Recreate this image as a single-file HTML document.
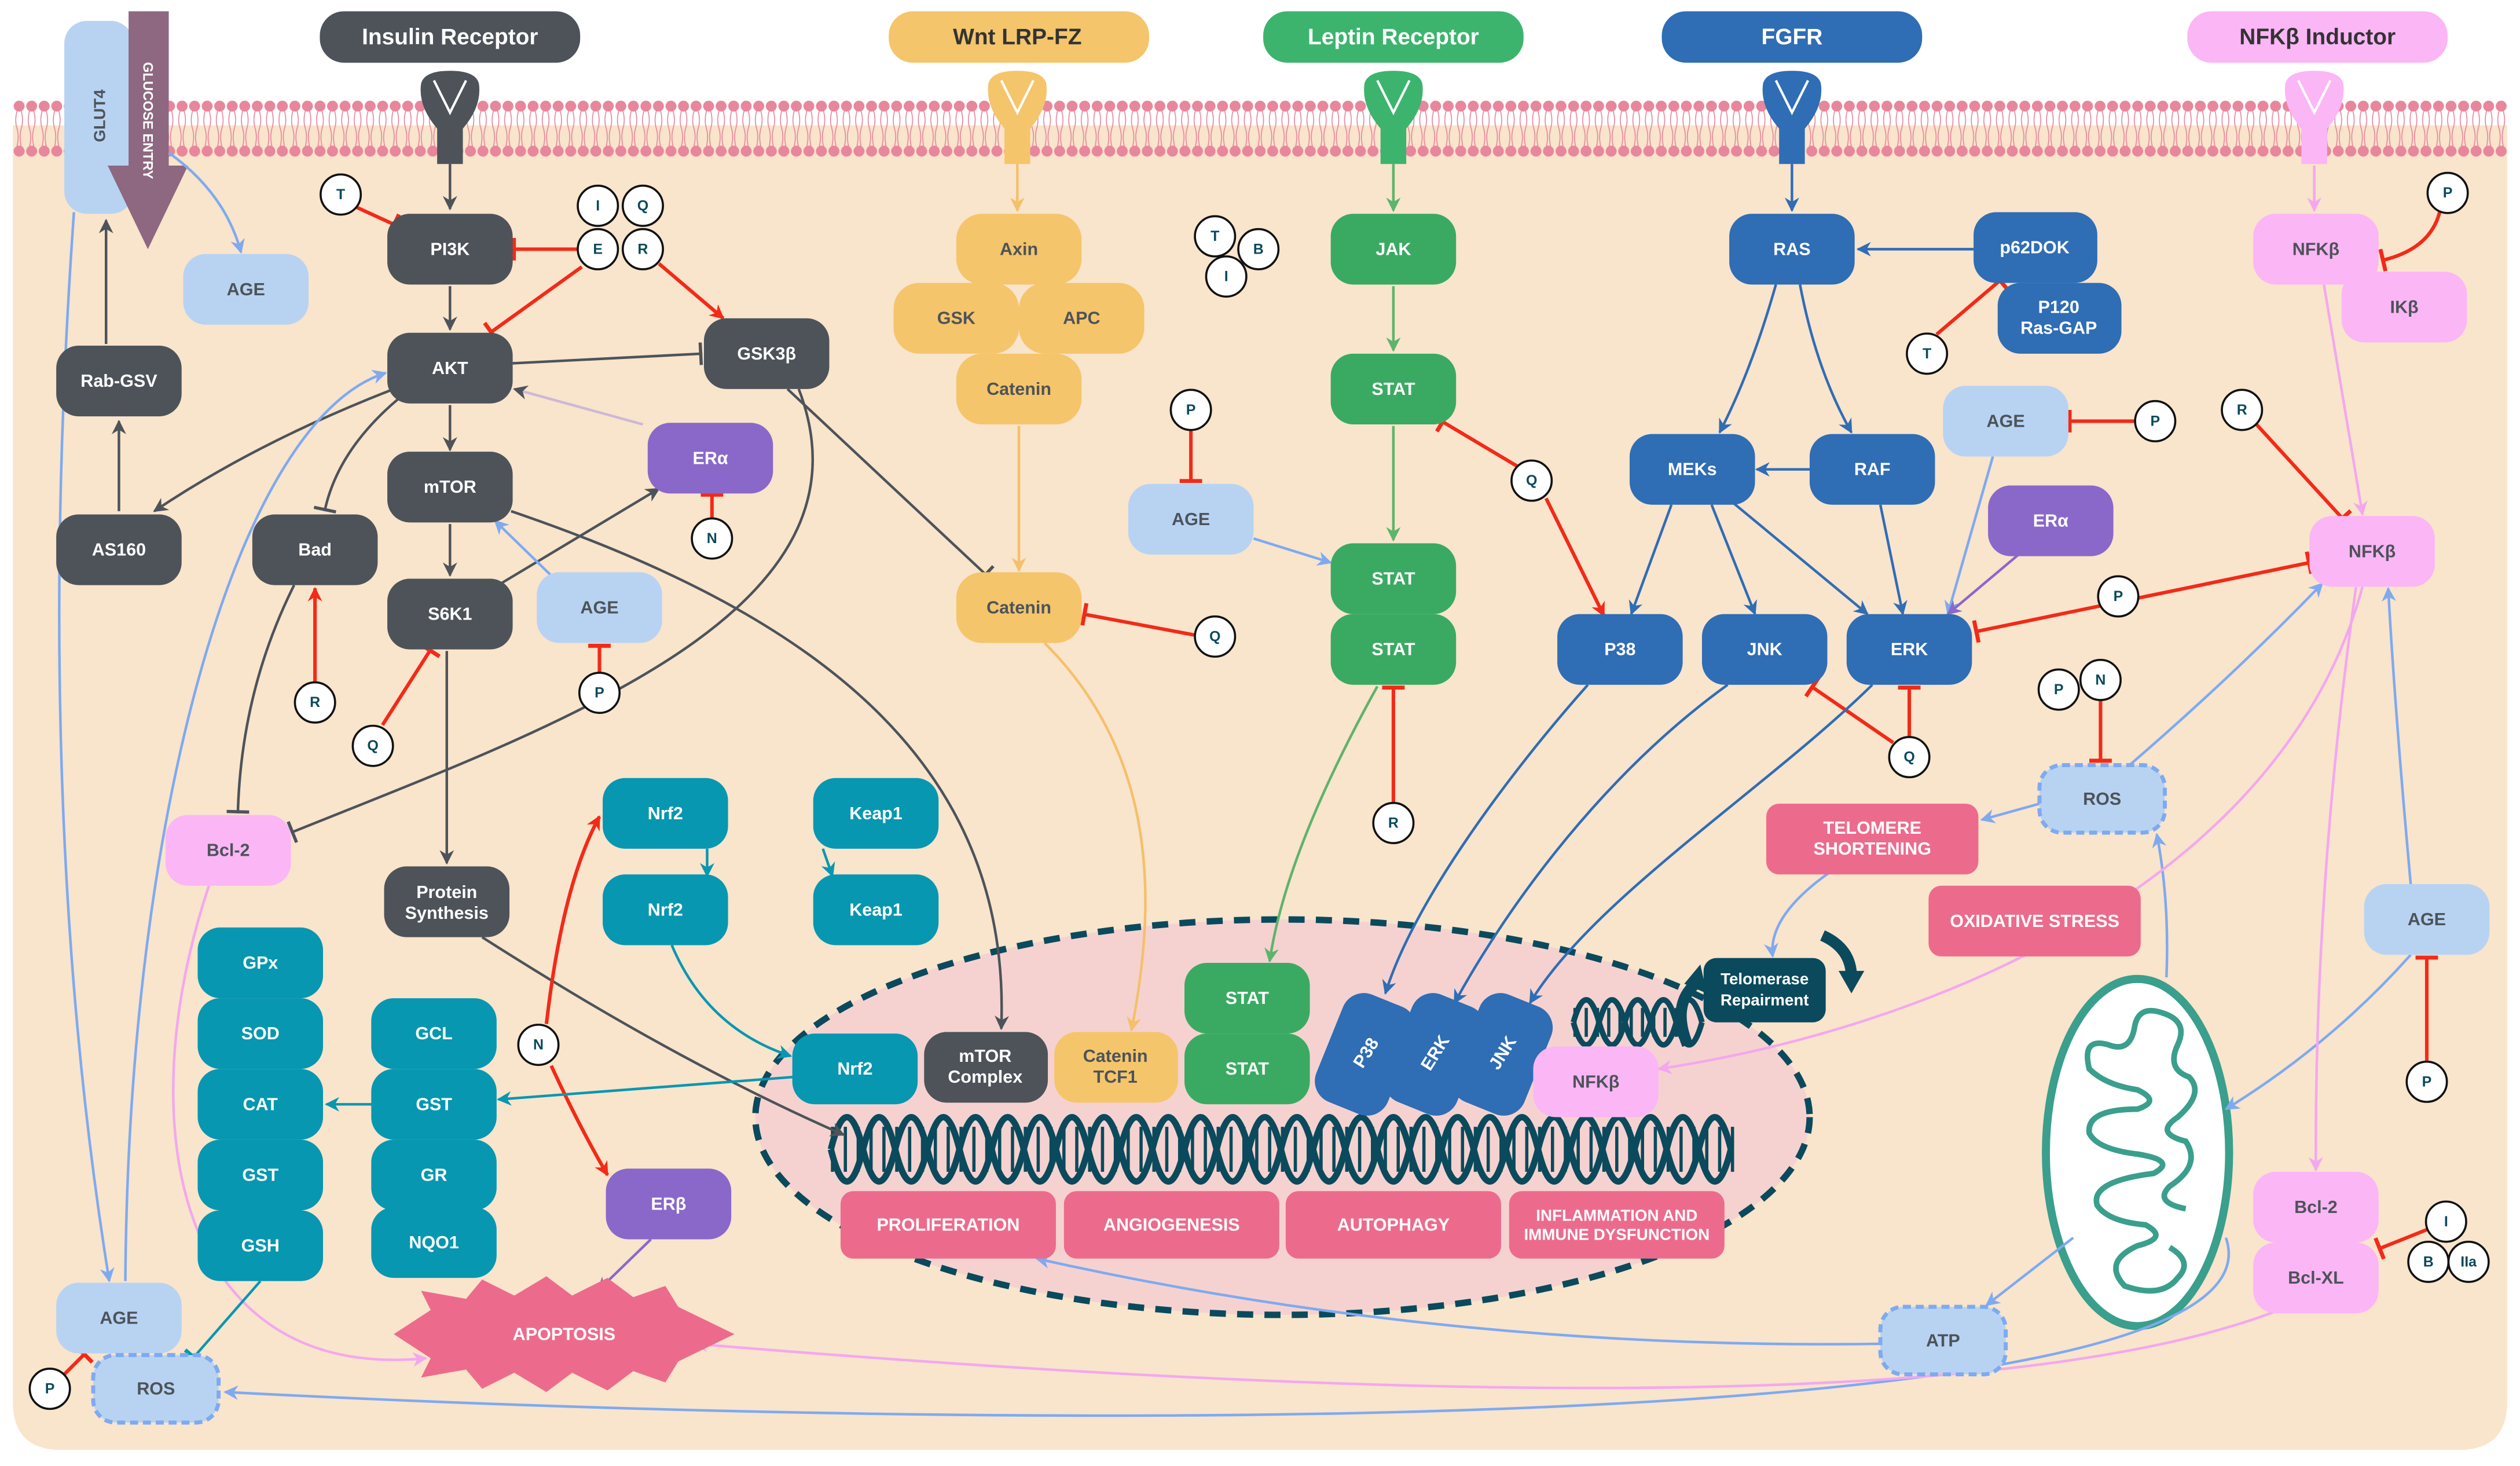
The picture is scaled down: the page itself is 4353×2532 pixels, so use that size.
<!DOCTYPE html>
<html><head><meta charset="utf-8"><style>
html,body{margin:0;padding:0;background:#fff;}
svg{display:block;}
text{font-family:"Liberation Sans",sans-serif;font-weight:bold;text-anchor:middle;dominant-baseline:central;}
.n text,.w{fill:#fff;font-size:11px;}
.c circle{fill:#fff;stroke:#111;stroke-width:1.3;}
.c text{fill:#0a4a5c;font-size:9px;}
.e path{fill:none;stroke-width:1.6;}
.e .r{stroke-width:2.2;}
.g{stroke:#4d5359;}.r{stroke:#f22a18;}.b{stroke:#7eaaf0;}.p{stroke:#f3a8ee;}.y{stroke:#f4c06a;}.gr{stroke:#5db46c;}.db{stroke:#2f6db5;}.t{stroke:#0797b1;}
</style></head><body>
<svg width="4353" height="2532" viewBox="0 0 1568 912" xmlns="http://www.w3.org/2000/svg">
<defs>
<pattern id="mem" width="7.8" height="38" patternUnits="userSpaceOnUse" x="8" y="61">
<circle cx="3.9" cy="5" r="3.4" fill="#e8869c"/><circle cx="3.9" cy="33" r="3.4" fill="#e8869c"/>
<path d="M2.6,8 Q1,14 2.6,19 Q4,24 2.6,30 M5.2,8 Q6.8,14 5.2,19 Q3.8,24 5.2,30" stroke="#e8869c" stroke-width="0.6" fill="none"/>
</pattern>
<marker id="ag" viewBox="0 0 10 10" refX="9" refY="5" markerWidth="9" markerHeight="9" markerUnits="userSpaceOnUse" orient="auto"><path d="M0,0L10,5L0,10L3,5z" fill="#4d5359" stroke="none"/></marker>
<marker id="ar" viewBox="0 0 10 10" refX="9" refY="5" markerWidth="9" markerHeight="9" markerUnits="userSpaceOnUse" orient="auto"><path d="M0,0L10,5L0,10L3,5z" fill="#f22a18" stroke="none"/></marker>
<marker id="ab" viewBox="0 0 10 10" refX="9" refY="5" markerWidth="9" markerHeight="9" markerUnits="userSpaceOnUse" orient="auto"><path d="M0,0L10,5L0,10L3,5z" fill="#7eaaf0" stroke="none"/></marker>
<marker id="ap" viewBox="0 0 10 10" refX="9" refY="5" markerWidth="9" markerHeight="9" markerUnits="userSpaceOnUse" orient="auto"><path d="M0,0L10,5L0,10L3,5z" fill="#f3a8ee" stroke="none"/></marker>
<marker id="ay" viewBox="0 0 10 10" refX="9" refY="5" markerWidth="9" markerHeight="9" markerUnits="userSpaceOnUse" orient="auto"><path d="M0,0L10,5L0,10L3,5z" fill="#f4c06a" stroke="none"/></marker>
<marker id="agr" viewBox="0 0 10 10" refX="9" refY="5" markerWidth="9" markerHeight="9" markerUnits="userSpaceOnUse" orient="auto"><path d="M0,0L10,5L0,10L3,5z" fill="#5db46c" stroke="none"/></marker>
<marker id="adb" viewBox="0 0 10 10" refX="9" refY="5" markerWidth="9" markerHeight="9" markerUnits="userSpaceOnUse" orient="auto"><path d="M0,0L10,5L0,10L3,5z" fill="#2f6db5" stroke="none"/></marker>
<marker id="at" viewBox="0 0 10 10" refX="9" refY="5" markerWidth="9" markerHeight="9" markerUnits="userSpaceOnUse" orient="auto"><path d="M0,0L10,5L0,10L3,5z" fill="#0797b1" stroke="none"/></marker>
<marker id="apu" viewBox="0 0 10 10" refX="9" refY="5" markerWidth="9" markerHeight="9" markerUnits="userSpaceOnUse" orient="auto"><path d="M0,0L10,5L0,10L3,5z" fill="#8a68c9" stroke="none"/></marker>
<marker id="tr" viewBox="0 0 4 14" refX="3" refY="7" markerWidth="4" markerHeight="14" markerUnits="userSpaceOnUse" orient="auto"><rect x="1" y="0" width="2.5" height="14" fill="#f22a18"/></marker>
<marker id="tg" viewBox="0 0 4 14" refX="3" refY="7" markerWidth="4" markerHeight="14" markerUnits="userSpaceOnUse" orient="auto"><rect x="1" y="0" width="2" height="14" fill="#4d5359"/></marker>
<marker id="tt" viewBox="0 0 4 14" refX="3" refY="7" markerWidth="4" markerHeight="14" markerUnits="userSpaceOnUse" orient="auto"><rect x="1" y="0" width="2.5" height="14" fill="#0797b1"/></marker>
<marker id="trs" viewBox="0 0 4 14" refX="1" refY="7" markerWidth="4" markerHeight="14" markerUnits="userSpaceOnUse" orient="auto"><rect x="0" y="0" width="2.5" height="14" fill="#f22a18"/></marker>
</defs>

<!-- cytoplasm -->
<path d="M8,78 H1560 V872 Q1560,902 1530,902 H38 Q8,902 8,872 Z" fill="#f9e4cc"/>
<rect x="8" y="61" width="1552" height="38" fill="url(#mem)"/>

<!-- nucleus -->
<ellipse cx="798" cy="695" rx="328" ry="123" fill="#f5d2d0" stroke="#0a4a5c" stroke-width="4" stroke-dasharray="10 7"/>

<!-- GLUT4 & glucose -->
<rect x="40" y="13" width="43" height="120" rx="14" fill="#b8d3f2"/>
<text x="62" y="72" transform="rotate(-90 62 72)" style="font-size:10px;fill:#4d5359">GLUT4</text>
<path d="M80,7 H105 V103 H117 L92,155 L67,103 H80 Z" fill="#8d6880" stroke="none"/>
<text x="92" y="75" transform="rotate(90 92 75)" style="font-size:8.5px;fill:#fff">GLUCOSE ENTRY</text>

<!-- top labels -->
<g class="n">
<rect x="199" y="7" width="162" height="32" rx="15" fill="#4d5359"/><text x="280" y="23" style="font-size:14px">Insulin Receptor</text>
<rect x="553" y="7" width="162" height="32" rx="15" fill="#f5c56b"/><text x="633" y="23" style="font-size:14px;fill:#333">Wnt   LRP-FZ</text>
<rect x="786" y="7" width="162" height="32" rx="15" fill="#3cb46e"/><text x="867" y="23" style="font-size:14px">Leptin Receptor</text>
<rect x="1034" y="7" width="162" height="32" rx="15" fill="#2f6db5"/><text x="1115" y="23" style="font-size:14px">FGFR</text>
<rect x="1361" y="7" width="162" height="32" rx="15" fill="#fbb6f6"/><text x="1442" y="23" style="font-size:14px;fill:#333">NFKβ Inductor</text>
</g>

<!-- receptors -->
<g stroke="none">
<path d="M262,52 Q264,44 280,44 Q296,44 298,52 Q300,66 288,80 V102 H272 V80 Q260,66 262,52 Z" fill="#4d5359"/><path d="M270,50 L280,70 L290,50" stroke="#fff" stroke-width="1.5" fill="none"/>
<path d="M615,52 Q617,44 633,44 Q649,44 651,52 Q653,66 641,80 V102 H625 V80 Q613,66 615,52 Z" fill="#f5c56b"/><path d="M623,50 L633,70 L643,50" stroke="#fff" stroke-width="1.5" fill="none"/>
<path d="M849,52 Q851,44 867,44 Q883,44 885,52 Q887,66 875,80 V102 H859 V80 Q847,66 849,52 Z" fill="#3cb46e"/><path d="M857,50 L867,70 L877,50" stroke="#fff" stroke-width="1.5" fill="none"/>
<path d="M1097,52 Q1099,44 1115,44 Q1131,44 1133,52 Q1135,66 1123,80 V102 H1107 V80 Q1095,66 1097,52 Z" fill="#2f6db5"/><path d="M1105,50 L1115,70 L1125,50" stroke="#fff" stroke-width="1.5" fill="none"/>
<path d="M1422,52 Q1424,44 1440,44 Q1456,44 1458,52 Q1460,66 1448,80 V102 H1432 V80 Q1420,66 1422,52 Z" fill="#fbb6f6"/><path d="M1430,50 L1440,70 L1450,50" stroke="#fff" stroke-width="1.5" fill="none"/>
</g>

<!-- DNA -->
<g stroke="#0a4a5c" fill="none">
<line x1="517" y1="715" x2="1080" y2="715" stroke-width="28" stroke-dasharray="2 6" stroke="#0a4a5c"/>
<path stroke-width="4" d="M517,715 q10,-40 20,0 t20,0 t20,0 t20,0 t20,0 t20,0 t20,0 t20,0 t20,0 t20,0 t20,0 t20,0 t20,0 t20,0 t20,0 t20,0 t20,0 t20,0 t20,0 t20,0 t20,0 t20,0 t20,0 t20,0 t20,0 t20,0 t20,0 t20,0"/>
<path stroke-width="4" d="M517,715 q10,40 20,0 t20,0 t20,0 t20,0 t20,0 t20,0 t20,0 t20,0 t20,0 t20,0 t20,0 t20,0 t20,0 t20,0 t20,0 t20,0 t20,0 t20,0 t20,0 t20,0 t20,0 t20,0 t20,0 t20,0 t20,0 t20,0 t20,0 t20,0"/>
<line x1="979" y1="636" x2="1045" y2="636" stroke-width="18" stroke-dasharray="2 5"/>
<path stroke-width="3.5" d="M979,636 q8,-28 16,0 t16,0 t16,0 t16,0 t16,0"/>
<path stroke-width="3.5" d="M979,636 q8,28 16,0 t16,0 t16,0 t16,0 t16,0"/>
</g>
<path d="M1050,650 Q1040,625 1055,612" stroke="#0a4a5c" stroke-width="7" fill="none"/>
<path d="M1048,612 L1058,600 L1062,618 Z" fill="#0a4a5c"/>
<path d="M1134,582 Q1152,590 1152,608" stroke="#0a4a5c" stroke-width="7" fill="none"/>
<path d="M1144,604 L1160,604 L1152,618 Z" fill="#0a4a5c"/>

<!-- mitochondrion -->
<ellipse cx="1330" cy="717" rx="57" ry="108" fill="#fff" stroke="#3a9f8c" stroke-width="5"/>
<path d="M1345,630 Q1330,625 1328,640 Q1325,655 1312,650 Q1295,645 1300,665 Q1310,675 1330,678 Q1345,685 1330,690 Q1298,690 1300,705 Q1305,715 1330,718 Q1355,722 1340,730 Q1300,735 1305,750 Q1312,760 1335,762 Q1350,770 1330,775 Q1308,785 1322,800 Q1345,808 1355,795 Q1365,785 1350,776 M1345,630 Q1362,635 1355,650 Q1348,665 1362,670 Q1372,680 1355,695 Q1340,705 1360,710 Q1370,725 1350,738 Q1340,748 1360,752" stroke="#3a9f8c" stroke-width="3.5" fill="none"/>

<!-- ===== edges ===== -->
<g class="e">
<path class="g" d="M280,102 V130" marker-end="url(#ag)"/>
<path class="g" d="M280,178 V205" marker-end="url(#ag)"/>
<path class="g" d="M280,252 V280" marker-end="url(#ag)"/>
<path class="g" d="M280,326 V358" marker-end="url(#ag)"/>
<path class="g" d="M319,226 L437,220" marker-end="url(#tg)"/>
<path class="g" d="M245,242 Q160,275 96,318" marker-end="url(#ag)"/>
<path class="g" d="M248,248 Q210,280 202,318" marker-end="url(#tg)"/>
<path class="g" d="M74,318 V262" marker-end="url(#ag)"/>
<path class="g" d="M66,214 V137" marker-end="url(#ag)"/>
<path class="g" d="M310,364 L410,304" marker-end="url(#ag)"/>
<path class="g" d="M278,405 V537" marker-end="url(#ag)"/>
<path class="g" d="M300,583 Q420,660 525,706" marker-end="url(#ag)"/>
<path class="g" d="M318,318 C500,380 630,470 623,640" marker-end="url(#ag)"/>
<path class="g" d="M490,242 L614,358" marker-end="url(#tg)"/>
<path class="g" d="M497,242 C550,380 350,450 181,518" marker-end="url(#tg)"/>
<path class="g" d="M183,364 Q150,430 148,506" marker-end="url(#tg)"/>
<path d="M400,264 L320,242" stroke="#cdb8d6" marker-end="url(#ag)"/>
<path class="r" d="M222,129 L246,140" marker-end="url(#tr)"/>
<path class="r" d="M359,155 L319,155" marker-end="url(#tr)"/>
<path class="r" d="M362,166 L305,207" marker-end="url(#tr)"/>
<path class="r" d="M410,164 L450,198" marker-end="url(#ar)"/>
<path class="r" d="M443,322 V307" marker-end="url(#tr)"/>
<path class="r" d="M373,418 V401" marker-end="url(#tr)"/>
<path class="r" d="M238,451 L268,404" marker-end="url(#tr)"/>
<path class="r" d="M196,424 V366" marker-end="url(#ar)"/>
<path class="r" d="M741,268 V300" marker-end="url(#tr)"/>
<path class="r" d="M743,395 L674,382" marker-end="url(#tr)"/>
<path class="r" d="M944,290 L897,262" marker-end="url(#tr)"/>
<path class="r" d="M962,310 L998,383" marker-end="url(#ar)"/>
<path class="r" d="M867,499 V427" marker-end="url(#tr)"/>
<path class="r" d="M1205,208 L1245,174" marker-end="url(#tr)"/>
<path class="r" d="M1328,262 L1287,262" marker-end="url(#tr)"/>
<path class="r" d="M1404,264 L1458,323" marker-end="url(#tr)"/>
<path class="r" d="M1518,132 Q1512,155 1482,162" marker-end="url(#tr)"/>
<path class="r" d="M1437,350 L1229,393" marker-end="url(#tr)" marker-start="url(#trs)"/>
<path class="r" d="M1178,462 L1127,427" marker-end="url(#tr)"/>
<path class="r" d="M1188,458 V427" marker-end="url(#tr)"/>
<path class="r" d="M1307,436 V474" marker-end="url(#tr)"/>
<path class="r" d="M1510,660 V595" marker-end="url(#tr)"/>
<path class="r" d="M1510,765 L1480,777" marker-end="url(#tr)"/>
<path class="r" d="M40,855 L53,842" marker-end="url(#tr)"/>
<path class="r" d="M340,637 Q350,550 373,508" marker-end="url(#ar)"/>
<path class="r" d="M343,663 Q360,700 378,731" marker-end="url(#ar)"/>
<path class="b" d="M105,95 Q140,120 150,157" marker-end="url(#ab)"/>
<path class="b" d="M46,132 Q20,500 68,797" marker-end="url(#ab)"/>
<path class="b" d="M78,797 C80,500 150,260 240,232" marker-end="url(#ab)"/>
<path class="b" d="M345,360 L308,324" marker-end="url(#ab)"/>
<path class="b" d="M780,335 L828,350" marker-end="url(#ab)"/>
<path class="b" d="M1240,284 L1212,382" marker-end="url(#ab)"/>
<path class="b" d="M1325,476 Q1390,420 1445,363" marker-end="url(#ab)"/>
<path class="b" d="M1269,500 L1233,510" marker-end="url(#ab)"/>
<path class="b" d="M1138,543 Q1100,570 1103,595" marker-end="url(#ab)"/>
<path class="b" d="M1500,594 Q1450,650 1385,690" marker-end="url(#ab)"/>
<path class="b" d="M1500,550 Q1490,440 1486,366" marker-end="url(#ab)"/>
<path class="b" d="M1348,608 Q1350,560 1342,519" marker-end="url(#ab)"/>
<path class="b" d="M1290,770 L1236,812" marker-end="url(#ab)"/>
<path class="b" d="M1170,836 Q900,840 645,783" marker-end="url(#ab)"/>
<path class="b" d="M1385,770 C1430,900 600,890 140,866" marker-end="url(#ab)"/>
<path class="p" d="M1440,103 V131" marker-end="url(#ap)"/>
<path class="p" d="M1446,177 L1470,320" marker-end="url(#ap)"/>
<path class="p" d="M1470,365 C1420,550 1200,640 1032,665" marker-end="url(#ap)"/>
<path class="p" d="M1466,365 Q1440,550 1441,728" marker-end="url(#ap)"/>
<path class="p" d="M1418,815 Q1200,900 432,836" marker-end="url(#ap)"/>
<path class="p" d="M130,551 C80,700 110,860 265,845" marker-end="url(#ap)"/>
<path class="y" d="M633,102 V131" marker-end="url(#ay)"/>
<path class="y" d="M634,265 V355" marker-end="url(#ay)"/>
<path class="y" d="M650,400 C720,470 720,560 704,641" marker-end="url(#ay)"/>
<path class="gr" d="M867,102 V131" marker-end="url(#agr)"/>
<path class="gr" d="M867,178 V218" marker-end="url(#agr)"/>
<path class="gr" d="M867,265 V336" marker-end="url(#agr)"/>
<path class="gr" d="M857,427 Q800,530 790,598" marker-end="url(#agr)"/>
<path class="db" d="M1115,102 V131" marker-end="url(#adb)"/>
<path class="db" d="M1228,155 H1156" marker-end="url(#adb)"/>
<path class="db" d="M1105,177 Q1090,230 1070,269" marker-end="url(#adb)"/>
<path class="db" d="M1120,177 Q1130,230 1152,269" marker-end="url(#adb)"/>
<path class="db" d="M1127,292 H1093" marker-end="url(#adb)"/>
<path class="db" d="M1040,314 L1015,382" marker-end="url(#adb)"/>
<path class="db" d="M1065,314 L1092,382" marker-end="url(#adb)"/>
<path class="db" d="M1075,310 L1162,382" marker-end="url(#adb)"/>
<path class="db" d="M1170,314 L1184,382" marker-end="url(#adb)"/>
<path d="M1256,345 L1212,382" stroke="#8a68c9" marker-end="url(#apu)"/>
<path class="db" d="M988,426 C940,480 880,560 862,618" marker-end="url(#adb)"/>
<path class="db" d="M1075,426 C1000,480 940,560 905,624" marker-end="url(#adb)"/>
<path class="db" d="M1165,426 C1100,490 990,560 952,624" marker-end="url(#adb)"/>
<path class="t" d="M440,528 V545" marker-end="url(#at)"/>
<path class="t" d="M512,528 L518,545" marker-end="url(#at)"/>
<path class="t" d="M418,588 Q440,640 492,657" marker-end="url(#at)"/>
<path class="t" d="M494,670 L310,684" marker-end="url(#at)"/>
<path class="t" d="M232,687 H203" marker-end="url(#at)"/>
<path class="t" d="M162,797 L120,845" marker-end="url(#tt)"/>
<path d="M405,771 L372,803" stroke="#8a68c9" marker-end="url(#apu)"/>
</g>

<!-- ===== nodes ===== -->
<g class="n">
<rect x="241" y="133" width="78" height="44" rx="14" fill="#4d5359"/><text x="280" y="155">PI3K</text>
<rect x="241" y="207" width="78" height="44" rx="14" fill="#4d5359"/><text x="280" y="229">AKT</text>
<rect x="241" y="281" width="78" height="44" rx="14" fill="#4d5359"/><text x="280" y="303">mTOR</text>
<rect x="241" y="360" width="78" height="44" rx="14" fill="#4d5359"/><text x="280" y="382">S6K1</text>
<rect x="438" y="198" width="78" height="44" rx="14" fill="#4d5359"/><text x="477" y="220">GSK3β</text>
<rect x="157" y="320" width="78" height="44" rx="14" fill="#4d5359"/><text x="196" y="342">Bad</text>
<rect x="35" y="320" width="78" height="44" rx="14" fill="#4d5359"/><text x="74" y="342">AS160</text>
<rect x="35" y="215" width="78" height="44" rx="14" fill="#4d5359"/><text x="74" y="237">Rab-GSV</text>
<rect x="239" y="539" width="78" height="44" rx="14" fill="#4d5359"/><text x="278" y="555">Protein</text><text x="278" y="568">Synthesis</text>
<rect x="575" y="642" width="77" height="44" rx="14" fill="#4d5359"/><text x="613" y="657">mTOR</text><text x="613" y="670">Complex</text>
<rect x="114" y="158" width="78" height="44" rx="14" fill="#b8d3f2"/><text x="153" y="180" style="fill:#4d5359">AGE</text>
<rect x="334" y="356" width="78" height="44" rx="14" fill="#b8d3f2"/><text x="373" y="378" style="fill:#4d5359">AGE</text>
<rect x="702" y="301" width="78" height="44" rx="14" fill="#b8d3f2"/><text x="741" y="323" style="fill:#4d5359">AGE</text>
<rect x="1209" y="240" width="78" height="44" rx="14" fill="#b8d3f2"/><text x="1248" y="262" style="fill:#4d5359">AGE</text>
<rect x="1471" y="550" width="78" height="44" rx="14" fill="#b8d3f2"/><text x="1510" y="572" style="fill:#4d5359">AGE</text>
<rect x="35" y="798" width="78" height="44" rx="14" fill="#b8d3f2"/><text x="74" y="820" style="fill:#4d5359">AGE</text>
<rect x="1269" y="476" width="78" height="42" rx="14" fill="#b8d3f2" stroke="#7eaaf0" stroke-width="2.5" stroke-dasharray="5 3"/><text x="1308" y="497" style="fill:#4d5359">ROS</text>
<rect x="1170" y="813" width="78" height="42" rx="14" fill="#b8d3f2" stroke="#7eaaf0" stroke-width="2.5" stroke-dasharray="5 3"/><text x="1209" y="834" style="fill:#4d5359">ATP</text>
<rect x="58" y="843" width="78" height="42" rx="14" fill="#b8d3f2" stroke="#7eaaf0" stroke-width="2.5" stroke-dasharray="5 3"/><text x="97" y="864" style="fill:#4d5359">ROS</text>
<rect x="403" y="263" width="78" height="44" rx="14" fill="#8a68c9"/><text x="442" y="285">ERα</text>
<rect x="1237" y="302" width="78" height="44" rx="14" fill="#8a68c9"/><text x="1276" y="324">ERα</text>
<rect x="377" y="727" width="78" height="44" rx="14" fill="#8a68c9"/><text x="416" y="749">ERβ</text>
<rect x="595" y="133" width="78" height="44" rx="16" fill="#f5c56b"/><text x="634" y="155" style="fill:#4d5359">Axin</text>
<rect x="556" y="176" width="78" height="44" rx="16" fill="#f5c56b"/><text x="595" y="198" style="fill:#4d5359">GSK</text>
<rect x="634" y="176" width="78" height="44" rx="16" fill="#f5c56b"/><text x="673" y="198" style="fill:#4d5359">APC</text>
<rect x="595" y="220" width="78" height="44" rx="16" fill="#f5c56b"/><text x="634" y="242" style="fill:#4d5359">Catenin</text>
<rect x="595" y="356" width="78" height="44" rx="16" fill="#f5c56b"/><text x="634" y="378" style="fill:#4d5359">Catenin</text>
<rect x="656" y="642" width="77" height="44" rx="14" fill="#f5c56b"/><text x="694" y="657" style="fill:#4d5359">Catenin</text><text x="694" y="670" style="fill:#4d5359">TCF1</text>
<rect x="828" y="133" width="78" height="44" rx="14" fill="#3aaa63"/><text x="867" y="155">JAK</text>
<rect x="828" y="220" width="78" height="44" rx="14" fill="#3aaa63"/><text x="867" y="242">STAT</text>
<rect x="828" y="338" width="78" height="44" rx="14" fill="#3aaa63"/><text x="867" y="360">STAT</text>
<rect x="828" y="382" width="78" height="44" rx="14" fill="#3aaa63"/><text x="867" y="404">STAT</text>
<rect x="737" y="599" width="78" height="44" rx="14" fill="#3aaa63"/><text x="776" y="621">STAT</text>
<rect x="737" y="643" width="78" height="44" rx="14" fill="#3aaa63"/><text x="776" y="665">STAT</text>
<rect x="1076" y="133" width="78" height="44" rx="14" fill="#2f6db5"/><text x="1115" y="155">RAS</text>
<rect x="1228" y="132" width="77" height="44" rx="14" fill="#2f6db5"/><text x="1266" y="154">p62DOK</text>
<rect x="1243" y="176" width="77" height="44" rx="14" fill="#2f6db5"/><text x="1281" y="191">P120</text><text x="1281" y="204">Ras-GAP</text>
<rect x="1014" y="270" width="78" height="44" rx="14" fill="#2f6db5"/><text x="1053" y="292">MEKs</text>
<rect x="1126" y="270" width="78" height="44" rx="14" fill="#2f6db5"/><text x="1165" y="292">RAF</text>
<rect x="969" y="382" width="78" height="44" rx="14" fill="#2f6db5"/><text x="1008" y="404">P38</text>
<rect x="1059" y="382" width="78" height="44" rx="14" fill="#2f6db5"/><text x="1098" y="404">JNK</text>
<rect x="1149" y="382" width="78" height="44" rx="14" fill="#2f6db5"/><text x="1188" y="404">ERK</text>
<g transform="rotate(22 850 655)"><rect x="826" y="620" width="48" height="72" rx="14" fill="#2f6db5"/><text x="850" y="655" transform="rotate(-80 850 655)">P38</text></g>
<g transform="rotate(22 893 655)"><rect x="869" y="620" width="48" height="72" rx="14" fill="#2f6db5"/><text x="893" y="655" transform="rotate(-80 893 655)">ERK</text></g>
<g transform="rotate(22 935 655)"><rect x="911" y="620" width="48" height="72" rx="14" fill="#2f6db5"/><text x="935" y="655" transform="rotate(-80 935 655)">JNK</text></g>
<rect x="1402" y="133" width="78" height="44" rx="14" fill="#fbb6f6"/><text x="1441" y="155" style="fill:#4d5359">NFKβ</text>
<rect x="1457" y="169" width="78" height="44" rx="14" fill="#fbb6f6"/><text x="1496" y="191" style="fill:#4d5359">IKβ</text>
<rect x="1437" y="321" width="78" height="44" rx="14" fill="#fbb6f6"/><text x="1476" y="343" style="fill:#4d5359">NFKβ</text>
<rect x="103" y="507" width="78" height="44" rx="14" fill="#fbb6f6"/><text x="142" y="529" style="fill:#4d5359">Bcl-2</text>
<rect x="954" y="651" width="78" height="44" rx="14" fill="#fbb6f6"/><text x="993" y="673" style="fill:#4d5359">NFKβ</text>
<rect x="1402" y="729" width="78" height="44" rx="14" fill="#fbb6f6"/><text x="1441" y="751" style="fill:#4d5359">Bcl-2</text>
<rect x="1402" y="773" width="78" height="44" rx="14" fill="#fbb6f6"/><text x="1441" y="795" style="fill:#4d5359">Bcl-XL</text>
<rect x="375" y="484" width="78" height="44" rx="14" fill="#0797b1"/><text x="414" y="506">Nrf2</text>
<rect x="375" y="544" width="78" height="44" rx="14" fill="#0797b1"/><text x="414" y="566">Nrf2</text>
<rect x="506" y="484" width="78" height="44" rx="14" fill="#0797b1"/><text x="545" y="506">Keap1</text>
<rect x="506" y="544" width="78" height="44" rx="14" fill="#0797b1"/><text x="545" y="566">Keap1</text>
<rect x="493" y="643" width="78" height="44" rx="14" fill="#0797b1"/><text x="532" y="665">Nrf2</text>
<rect x="123" y="577" width="78" height="44" rx="14" fill="#0797b1"/><text x="162" y="599">GPx</text>
<rect x="123" y="621" width="78" height="44" rx="14" fill="#0797b1"/><text x="162" y="643">SOD</text>
<rect x="123" y="665" width="78" height="44" rx="14" fill="#0797b1"/><text x="162" y="687">CAT</text>
<rect x="123" y="709" width="78" height="44" rx="14" fill="#0797b1"/><text x="162" y="731">GST</text>
<rect x="123" y="753" width="78" height="44" rx="14" fill="#0797b1"/><text x="162" y="775">GSH</text>
<rect x="231" y="621" width="78" height="44" rx="14" fill="#0797b1"/><text x="270" y="643">GCL</text>
<rect x="231" y="665" width="78" height="44" rx="14" fill="#0797b1"/><text x="270" y="687">GST</text>
<rect x="231" y="709" width="78" height="44" rx="14" fill="#0797b1"/><text x="270" y="731">GR</text>
<rect x="231" y="751" width="78" height="44" rx="14" fill="#0797b1"/><text x="270" y="773">NQO1</text>
<rect x="523" y="741" width="134" height="42" rx="8" fill="#ec6b8c"/><text x="590" y="762">PROLIFERATION</text>
<rect x="662" y="741" width="134" height="42" rx="8" fill="#ec6b8c"/><text x="729" y="762">ANGIOGENESIS</text>
<rect x="800" y="741" width="134" height="42" rx="8" fill="#ec6b8c"/><text x="867" y="762">AUTOPHAGY</text>
<rect x="939" y="741" width="134" height="42" rx="8" fill="#ec6b8c"/><text x="1006" y="756" style="font-size:10px">INFLAMMATION AND</text><text x="1006" y="768" style="font-size:10px">IMMUNE DYSFUNCTION</text>
<rect x="1099" y="500" width="132" height="44" rx="8" fill="#ec6b8c"/><text x="1165" y="515">TELOMERE</text><text x="1165" y="528">SHORTENING</text>
<rect x="1200" y="551" width="132" height="44" rx="8" fill="#ec6b8c"/><text x="1266" y="573">OXIDATIVE STRESS</text>
<rect x="1060" y="596" width="76" height="40" rx="8" fill="#0a4a5c"/><text x="1098" y="609" style="font-size:10px">Telomerase</text><text x="1098" y="622" style="font-size:10px">Repairment</text>
<polygon points="245,830 268,815 262,803 290,808 300,796 320,806 340,794 356,806 378,795 394,807 414,800 422,813 457,830 422,847 414,860 394,853 378,865 356,854 340,866 320,854 300,864 290,852 262,857 268,845" fill="#ec6b8c"/>
<text x="351" y="830">APOPTOSIS</text>
</g>

<!-- small circles -->
<g class="c">
<circle cx="212" cy="121" r="12.5"/><text x="212" y="121">T</text>
<circle cx="372" cy="128" r="12.5"/><text x="372" y="128">I</text>
<circle cx="400" cy="128" r="12.5"/><text x="400" y="128">Q</text>
<circle cx="372" cy="155" r="12.5"/><text x="372" y="155">E</text>
<circle cx="400" cy="155" r="12.5"/><text x="400" y="155">R</text>
<circle cx="756" cy="147" r="12.5"/><text x="756" y="147">T</text>
<circle cx="783" cy="155" r="12.5"/><text x="783" y="155">B</text>
<circle cx="763" cy="172" r="12.5"/><text x="763" y="172">I</text>
<circle cx="741" cy="255" r="12.5"/><text x="741" y="255">P</text>
<circle cx="953" cy="299" r="12.5"/><text x="953" y="299">Q</text>
<circle cx="756" cy="396" r="12.5"/><text x="756" y="396">Q</text>
<circle cx="373" cy="431" r="12.5"/><text x="373" y="431">P</text>
<circle cx="443" cy="335" r="12.5"/><text x="443" y="335">N</text>
<circle cx="196" cy="437" r="12.5"/><text x="196" y="437">R</text>
<circle cx="232" cy="464" r="12.5"/><text x="232" y="464">Q</text>
<circle cx="867" cy="512" r="12.5"/><text x="867" y="512">R</text>
<circle cx="1199" cy="220" r="12.5"/><text x="1199" y="220">T</text>
<circle cx="1341" cy="262" r="12.5"/><text x="1341" y="262">P</text>
<circle cx="1395" cy="255" r="12.5"/><text x="1395" y="255">R</text>
<circle cx="1523" cy="120" r="12.5"/><text x="1523" y="120">P</text>
<circle cx="1318" cy="371" r="12.5"/><text x="1318" y="371">P</text>
<circle cx="1281" cy="429" r="12.5"/><text x="1281" y="429">P</text>
<circle cx="1307" cy="423" r="12.5"/><text x="1307" y="423">N</text>
<circle cx="1188" cy="471" r="12.5"/><text x="1188" y="471">Q</text>
<circle cx="1510" cy="673" r="12.5"/><text x="1510" y="673">P</text>
<circle cx="1522" cy="760" r="12.5"/><text x="1522" y="760">I</text>
<circle cx="1511" cy="785" r="12.5"/><text x="1511" y="785">B</text>
<circle cx="1536" cy="785" r="12.5"/><text x="1536" y="785">IIa</text>
<circle cx="335" cy="650" r="12.5"/><text x="335" y="650">N</text>
<circle cx="31" cy="864" r="12.5"/><text x="31" y="864">P</text>
</g>
</svg>
</body></html>
